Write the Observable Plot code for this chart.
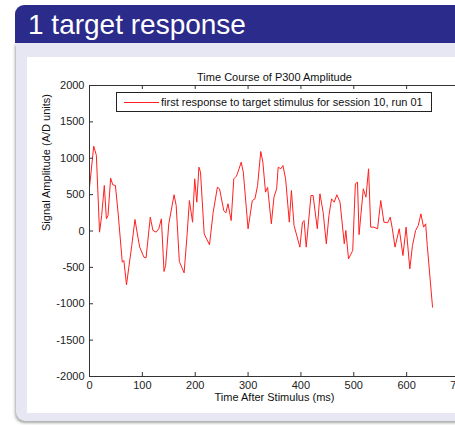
<!DOCTYPE html>
<html><head><meta charset="utf-8">
<script src="https://cdn.jsdelivr.net/npm/d3@7"></script>
<script src="https://cdn.jsdelivr.net/npm/@observablehq/plot@0.6"></script>
<style>
html,body{margin:0;padding:0;width:455px;height:425px;overflow:hidden;background:#fff;}
body{position:relative;font-family:"Liberation Sans",Arial,sans-serif;}
#hdr{position:absolute;left:15px;top:5px;width:470px;height:38px;background:#2b2b8b;border-top-left-radius:9px;}
#hdr span{position:absolute;left:13px;top:6px;line-height:28px;color:#fff;font-size:28px;white-space:nowrap;}
#panel{position:absolute;left:16px;top:43px;width:470px;height:378px;background:#e7e7f3;border-bottom-left-radius:9px;box-shadow:-1px 2px 3px rgba(0,0,0,.35);}
#fig{position:absolute;left:27px;top:57px;width:440px;height:356px;background:#fff;}
#chart{position:absolute;left:0;top:0;width:470px;height:425px;}
#chart svg{max-width:none !important;}
#legend{position:absolute;left:116px;top:92px;width:314px;height:18px;border:1px solid #222;background:#fff;font-size:11px;color:#111;}
#legend .ln{position:absolute;left:7px;top:9px;width:35px;height:0;border-top:1px solid #ff2020;}
#legend .tx{position:absolute;left:44px;top:2px;line-height:14px;white-space:nowrap;}
</style></head>
<body>
<div id="hdr"><span>1 target response</span></div>
<div id="panel"></div>
<div id="fig"></div>
<div id="chart"></div>
<div id="legend"><div class="ln"></div><div class="tx"></div></div>
<script>
const headerTitle = "1 target response";
const chartTitle = "Time Course of P300 Amplitude";
const xLabel = "Time After Stimulus (ms)";
const yLabel = "Signal Amplitude (A/D units)";
const seriesName = "first response to target stimulus for session 10, run 01";
const xTicks = [0, 100, 200, 300, 400, 500, 600, 700];
const yTicks = [-2000, -1500, -1000, -500, 0, 500, 1000, 1500, 2000];
const timeMs = [0, 8, 13, 19, 23, 28, 32, 35, 40, 44, 49, 54, 62, 65, 70, 74, 80, 86, 90, 95,
  103, 107, 115, 120, 126, 131, 136, 141, 144, 150, 160, 164, 170, 179, 185, 189, 195, 199, 203, 207,
  210, 217, 227, 234, 242, 246, 254, 258, 262, 268, 273, 278, 283, 287, 291, 300, 308, 313, 318, 324,
  328, 333, 337, 344, 349, 354, 357, 362, 366, 371, 378, 382, 387, 398, 403, 406, 410, 419, 423, 431,
  436, 442, 448, 453, 458, 463, 468, 474, 482, 485, 490, 498, 503, 507, 510, 518, 523, 528, 532, 538,
  545, 551, 557, 564, 569, 573, 578, 586, 593, 599, 606, 611, 617, 622, 627, 632, 636, 639, 649];
const amplitude = [600, 1166, 1040, -16, 213, 626, 167, 213, 726, 635, 626, 258, -429, -405, -740, -520, -199, 158, -16, -222,
  -360, -369, 190, 7, -16, 30, 167, -557, -474, 99, 498, 350, -420, -575, -16, 419, 121, 717, 396, 877,
  808, -39, -190, 258, 602, 580, 282, 250, 374, 144, 717, 754, 855, 946, 808, 30, 419, 442, 626, 1093,
  946, 534, 600, 99, 465, 580, 877, 855, 900, 717, 121, 557, 76, -222, 121, 144, -222, 488, 488, 30,
  511, 258, -176, 213, 442, 396, 498, 396, -176, 7, -383, -268, 649, 671, -50, 580, 465, 855, 53, 53,
  30, 419, 121, 113, 190, 30, -222, 30, -337, 53, -520, -199, 7, 76, 236, 53, 99, -199, -1047];

const data = timeMs.map((t, i) => ({t, v: amplitude[i]}));
document.querySelector("#hdr span").textContent = headerTitle;
document.querySelector("#legend .tx").textContent = seriesName;

const W = 470, H = 425, mL = 89, mR = 11, mT = 85, mB = 49;
const fw = W - mL - mR, fh = H - mT - mB, tk = 4;
const axisColor = "#333";

const chart = Plot.plot({
  width: W, height: H,
  marginLeft: mL, marginRight: mR, marginTop: mT, marginBottom: mB,
  style: {background: "transparent", fontFamily: "Liberation Sans, Arial, sans-serif", fontSize: "11px", color: "#222", maxWidth: "none"},
  x: {domain: [0, 700]},
  y: {domain: [-2000, 2000]},
  marks: [
    Plot.line(data, {x: "t", y: "v", stroke: "#ff2020", strokeWidth: 1}),
    Plot.tickX(xTicks, {x: d => d, insetTop: fh - tk, stroke: axisColor}),
    Plot.tickX(xTicks, {x: d => d, insetBottom: fh - tk, stroke: axisColor}),
    Plot.tickY(yTicks, {y: d => d, insetRight: fw - tk, stroke: axisColor}),
    Plot.tickY(yTicks, {y: d => d, insetLeft: fw - tk, stroke: axisColor}),
    Plot.frame({stroke: axisColor}),
    Plot.axisX({ticks: xTicks, tickSize: 0, tickPadding: 5, label: null, tickFormat: d => String(d)}),
    Plot.axisY({ticks: yTicks, tickSize: 0, tickPadding: 5, label: null, tickFormat: d => String(d)}),
    Plot.text([chartTitle], {frameAnchor: "top", dy: -12, text: d => d, fill: "#111"}),
    Plot.text([xLabel], {frameAnchor: "bottom", dy: 24, text: d => d, fill: "#111"}),
    Plot.text([yLabel], {frameAnchor: "left", dx: -43, rotate: -90, text: d => d, fill: "#111"})
  ]
});
document.getElementById("chart").appendChild(chart);
</script>
</body></html>
